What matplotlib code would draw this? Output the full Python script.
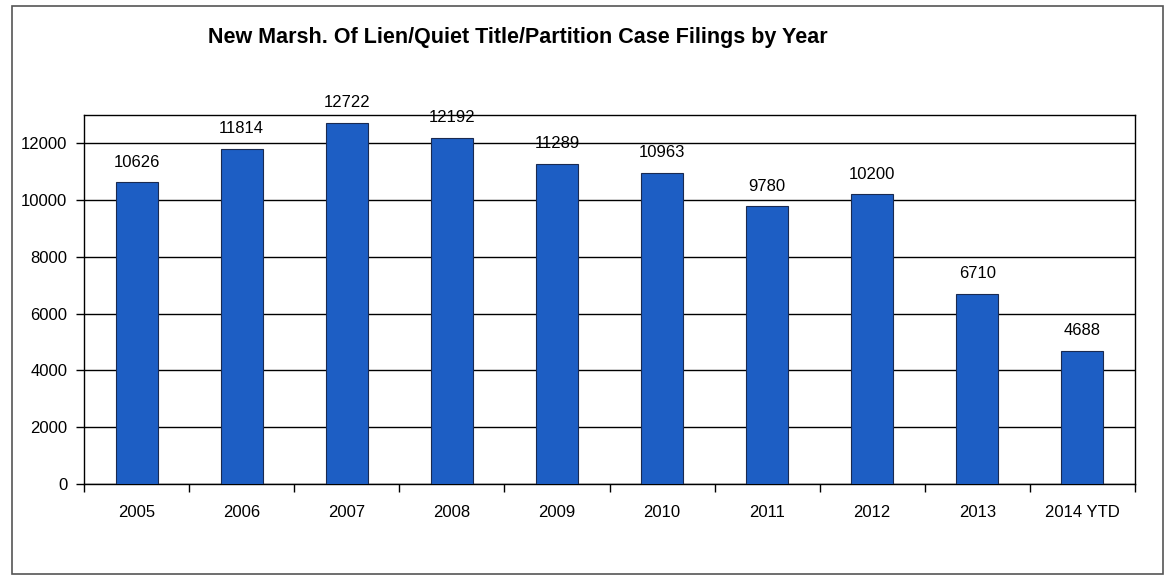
import matplotlib
matplotlib.use("Agg")
import matplotlib.pyplot as plt
from matplotlib.patches import Rectangle

categories = ["2005", "2006", "2007", "2008", "2009", "2010", "2011", "2012", "2013", "2014 YTD"]
values = [10626, 11814, 12722, 12192, 11289, 10963, 9780, 10200, 6710, 4688]
yticks = [0, 2000, 4000, 6000, 8000, 10000, 12000]
title = "New Marsh. Of Lien/Quiet Title/Partition Case Filings by Year"

plt.rcParams['font.family'] = ['Liberation Sans', 'DejaVu Sans']

W, H = 1170, 577
fig = plt.figure(figsize=(W / 100, H / 100), dpi=100)
fig.patch.set_facecolor("white")

# outer frame
fig.patches.append(Rectangle((12 / W, 1 - 574 / H), (1163 - 12) / W, (574 - 6) / H,
                             transform=fig.transFigure, fill=False,
                             edgecolor="#555555", linewidth=1.2))

left, right, top, bottom = 84, 1135, 115, 484
ax = fig.add_axes([left / W, 1 - bottom / H, (right - left) / W, (bottom - top) / H])

x = list(range(len(categories)))
bars = ax.bar(x, values, width=0.4, color="#1d5ec4", edgecolor="#1a2a50", linewidth=0.8, zorder=3)

ax.set_xlim(-0.5, len(categories) - 0.5)
ax.set_ylim(0, 13000)
ax.set_yticks(yticks)
ax.set_yticklabels([str(v) for v in yticks], fontsize=12)
ax.yaxis.grid(True, color="black", linewidth=1.0, zorder=0)
ax.set_axisbelow(True)

ax.set_xticks(x)
ax.set_xticklabels(categories, fontsize=12)
ax.tick_params(axis='x', length=0, pad=15)
# category boundary ticks
ax.set_xticks([i - 0.5 for i in range(len(categories) + 1)], minor=True)
ax.tick_params(axis='x', which='minor', length=6, direction='out', width=1)
ax.tick_params(axis='y', length=6, direction='out', width=1, pad=6)

for s in ax.spines.values():
    s.set_color("black")
    s.set_linewidth(1.0)

for xi, v in zip(x, values):
    ax.annotate(str(v), (xi, v), xytext=(0, 9), textcoords="offset points",
                ha="center", va="bottom", fontsize=12, zorder=4)

fig.text(518 / W, 1 - 38 / H, title, ha="center", va="center",
         fontsize=15.5, fontweight="bold")

fig.savefig("out.png", dpi=100)
